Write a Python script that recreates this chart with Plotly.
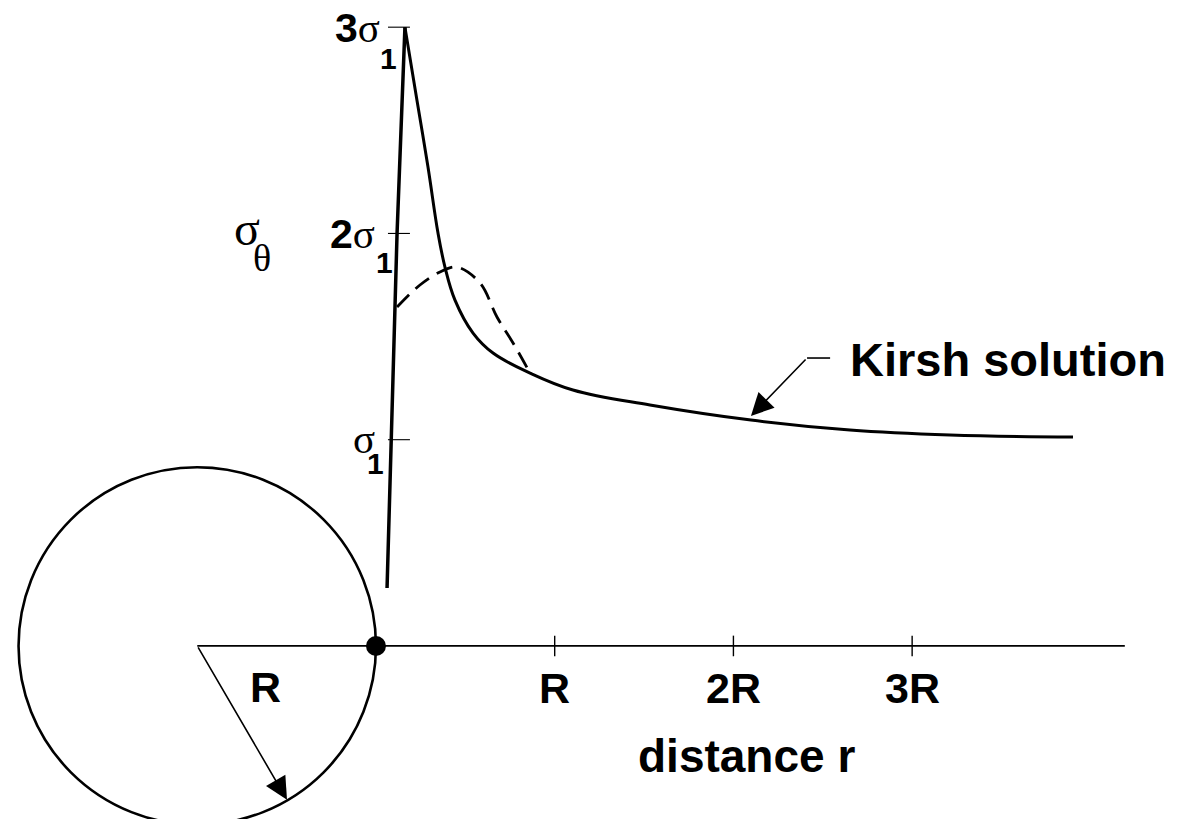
import plotly.graph_objects as go

# distance from the hole wall in units of R, stress in units of sigma_1
rise_r = [0.062, 0.090, 0.118, 0.162]
rise_s = [0.281, 1.095, 2.002, 3.000]

kirsh_r = [0.162, 0.229, 0.291, 0.347, 0.386, 0.442, 0.543, 0.655, 0.862,
           1.102, 1.533, 2.098, 2.652, 3.212, 3.900]
kirsh_s = [3.000, 2.647, 2.322, 2.002, 1.837, 1.677, 1.517, 1.420, 1.323,
           1.241, 1.168, 1.095, 1.047, 1.023, 1.013]

plastic_r = [0.118, 0.246, 0.358, 0.453, 0.582, 0.677, 0.767, 0.862]
plastic_s = [1.643, 1.750, 1.813, 1.837, 1.760, 1.595, 1.469, 1.323]

x_ticks = [1, 2, 3]
x_labels = ["R", "2R", "3R"]
y_ticks = [1, 2, 3]
y_labels = ["", "2", "3"]

# the page body adds an 8px margin, so the figure is a bit smaller
W, H = 1164, 811
xr = [-2.059, 4.454]
yr = [-0.839, 3.093]
kx = W / (xr[1] - xr[0])
ky = H / (yr[1] - yr[0])
ry = 1.0 * kx / ky   # keeps the hole round

sans = "Liberation Sans, Arial"
serif = "Liberation Serif, Times New Roman"
sig = "<span style='font-family:Liberation Serif'>σ</span>"

fig = go.Figure()

fig.add_trace(go.Scatter(x=rise_r, y=rise_s, mode="lines",
                         line=dict(color="black", width=3.5)))
fig.add_trace(go.Scatter(x=kirsh_r, y=kirsh_s, mode="lines",
                         line=dict(color="black", width=3, shape="spline", smoothing=1.1)))
fig.add_trace(go.Scatter(x=plastic_r, y=plastic_s, mode="lines",
                         line=dict(color="black", width=2.8, dash="17px,9px",
                                   shape="spline", smoothing=1.0)))

# hole
fig.add_shape(type="circle", x0=-2, x1=0, y0=-ry, y1=ry,
              line=dict(color="black", width=2.6))
# r axis
fig.add_shape(type="line", x0=-1, x1=4.19, y0=0, y1=0,
              line=dict(color="black", width=1.8))
for t in x_ticks:
    fig.add_shape(type="line", x0=t, x1=t, y0=-0.05, y1=0.05,
                  line=dict(color="black", width=1.4))
for t in y_ticks:
    fig.add_shape(type="line", x0=0.067, x1=0.19, y0=t, y1=t,
                  line=dict(color="black", width=1.1))

fig.add_trace(go.Scatter(x=[0], y=[0], mode="markers",
                         marker=dict(color="black", size=20)))

# radius arrow
fig.add_annotation(x=-0.498, y=-0.746, ax=-1, ay=0, axref="x", ayref="y",
                   showarrow=True, arrowhead=2, arrowsize=2.8, arrowwidth=1.6,
                   arrowcolor="black", text="")
fig.add_annotation(x=-0.616, y=-0.199, text="<b>R</b>", showarrow=False,
                   font=dict(family=sans, size=43, color="black"))

for t, lab in zip(x_ticks, x_labels):
    fig.add_annotation(x=t, y=-0.204, text="<b>%s</b>" % lab, showarrow=False,
                       font=dict(family=sans, size=43, color="black"))
fig.add_annotation(x=2.071, y=-0.533, text="<b>distance r</b>", showarrow=False,
                   font=dict(family=sans, size=46, color="black"))

# kirsh label and pointer
fig.add_shape(type="line", x0=2.412, x1=2.541, y0=1.396, y1=1.396,
              line=dict(color="black", width=1.6))
fig.add_annotation(x=2.098, y=1.115, ax=2.412, ay=1.396, axref="x", ayref="y",
                   showarrow=True, arrowhead=2, arrowsize=2.8, arrowwidth=1.6,
                   arrowcolor="black", text="")
fig.add_annotation(x=2.641, y=1.391, xanchor="left", text="<b>Kirsh solution</b>",
                   showarrow=False, font=dict(family=sans, size=47, color="black"))

# sigma_theta label
fig.add_annotation(x=-0.722, y=2.026, text="σ", showarrow=False,
                   font=dict(family=serif, size=48, color="black"))
fig.add_annotation(x=-0.638, y=1.881, text="θ", showarrow=False,
                   font=dict(family=serif, size=38, color="black"))

# stress tick labels
lab_x = {1: 0.005, 2: 0.005, 3: 0.033}
lab_y = {1: 1.003, 2: 1.999, 3: 2.995}
sub_x = {1: 0.0, 2: 0.045, 3: 0.070}
sub_y = {1: 0.887, 2: 1.861, 3: 2.850}
for t, lab in zip(y_ticks, y_labels):
    fig.add_annotation(x=lab_x[t], y=lab_y[t], xanchor="right",
                       text=("<b>%s</b>" % lab if lab else "") + sig,
                       showarrow=False, font=dict(family=sans, size=41, color="black"))
    fig.add_annotation(x=sub_x[t], y=sub_y[t], text="<b>1</b>",
                       showarrow=False, font=dict(family=sans, size=30, color="black"))

fig.update_layout(width=W, height=H, margin=dict(l=0, r=0, t=0, b=0),
                  plot_bgcolor="white", paper_bgcolor="white", showlegend=False,
                  xaxis=dict(range=xr, visible=False, fixedrange=True),
                  yaxis=dict(range=yr, visible=False, fixedrange=True))

fig.write_html("out.html")
